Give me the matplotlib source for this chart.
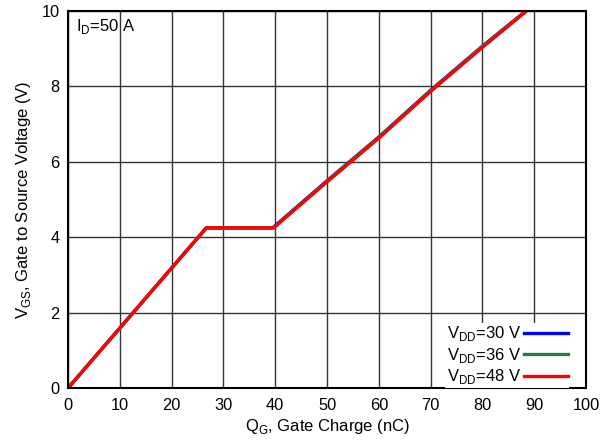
import matplotlib
matplotlib.use("Agg")
import matplotlib.pyplot as plt

plt.rcParams['font.family'] = ['Liberation Sans', 'DejaVu Sans']
plt.rcParams['mathtext.fontset'] = 'custom'
plt.rcParams['mathtext.rm'] = 'Liberation Sans'

qg_30 = [0, 26.7, 39.5, 50, 60, 70, 80, 88.35]
vgs_30 = [0, 4.25, 4.25, 5.50, 6.66, 7.90, 9.07, 10.0]
qg_36 = [0, 26.7, 39.6, 50, 60, 70, 80, 88.4]
vgs_36 = [0, 4.25, 4.25, 5.49, 6.65, 7.89, 9.06, 10.0]
qg_48 = [0, 26.7, 39.7, 50, 60, 70, 80, 88.5]
vgs_48 = [0, 4.25, 4.25, 5.47, 6.63, 7.87, 9.04, 10.0]

labels = [r'V$_{\mathregular{DD}}$=30 V', r'V$_{\mathregular{DD}}$=36 V', r'V$_{\mathregular{DD}}$=48 V']
colors = ['#0000ff', '#208040', '#ff0000']

fig = plt.figure(figsize=(6.13, 4.44), dpi=100)
ax = fig.add_axes([0.111, 0.126, 0.845, 0.849])

for q, v, lab, c in zip([qg_30, qg_36, qg_48], [vgs_30, vgs_36, vgs_48], labels, colors):
    ax.plot(q, v, color=c, lw=2.4, label=lab, solid_joinstyle='miter', zorder=3)

ax.set_xlim(0, 100)
ax.set_ylim(0, 10)
ax.set_xticks(range(0, 101, 10))
ax.set_yticks(range(0, 11, 2))
ax.grid(True, color='#333333', lw=1.0)
ax.tick_params(length=0, labelsize=11.8, pad=7)
ax.tick_params(axis='y', pad=6)
for s in ax.spines.values():
    s.set_linewidth(1.5)
    s.set_color('black')
    s.set_zorder(4)

ax.set_xlabel(r'Q$_{\mathregular{G}}$, Gate Charge (nC)', fontsize=12, labelpad=3)
ax.set_ylabel(r'V$_{\mathregular{GS}}$, Gate to Source Voltage (V)', fontsize=12, labelpad=6)

ax.text(0.015, 0.985, r'I$_{\mathregular{D}}$=50 A', transform=ax.transAxes, fontsize=12,
        va='top', ha='left')

leg = ax.legend(loc='lower right', markerfirst=False, frameon=True, fontsize=12,
                handlelength=2.6, handletextpad=0.2, labelspacing=0.15,
                borderpad=0.1, borderaxespad=0.0, fancybox=False,
                bbox_to_anchor=(0.968, 0.0))
leg.get_frame().set_edgecolor('none')
leg.get_frame().set_facecolor('white')
leg.get_frame().set_alpha(1)

fig.savefig('out.png', dpi=100)
